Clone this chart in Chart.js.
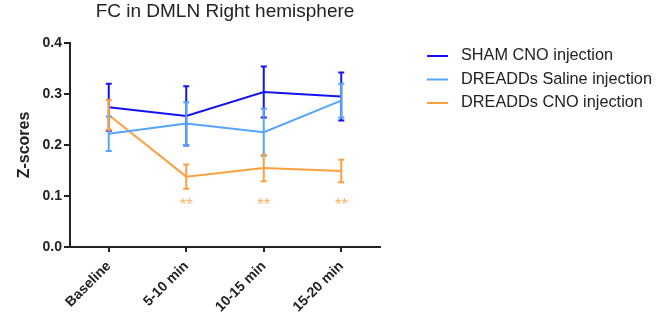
<!DOCTYPE html>
<html>
<head>
<meta charset="utf-8">
<script src="https://cdn.jsdelivr.net/npm/chart.js@4/dist/chart.umd.min.js"></script>
<style>
  html, body { margin: 0; padding: 0; background: #fff; }
  #wrap { width: 660px; height: 318px; }
</style>
</head>
<body>
<div id="wrap"><canvas id="c" width="660" height="318"></canvas></div>
<script>
const chartTitle = 'FC in DMLN Right hemisphere';
const yAxisTitle = 'Z-scores';
const categories = ['Baseline', '5-10 min', '10-15 min', '15-20 min'];
const seriesNames = ['SHAM CNO injection', 'DREADDs Saline injection', 'DREADDs CNO injection'];
const shamMean = [0.274, 0.257, 0.304, 0.295];
const shamErr = [0.046, 0.058, 0.050, 0.047];
const salineMean = [0.222, 0.242, 0.225, 0.287];
const salineErr = [0.034, 0.042, 0.046, 0.033];
const cnoMean = [0.259, 0.138, 0.155, 0.149];
const cnoErr = [0.029, 0.024, 0.026, 0.022];
const sigMarks = ['', '**', '**', '**'];
const yTickValues = [0, 0.1, 0.2, 0.3, 0.4];
const yTickLabels = ['0.0', '0.1', '0.2', '0.3', '0.4'];

const colors = ['#1414F0', '#55A5FF', '#FFA040'];
const starColor = '#FFB46A';
const textColor = '#222222';
const errs = [shamErr, salineErr, cnoErr];

const overlay = {
  id: 'overlay',
  afterDatasetsDraw(chart) {
    const ctx = chart.ctx;
    const xs = chart.scales.x, ys = chart.scales.y;
    ctx.save();
    // error bars
    chart.data.datasets.forEach((ds, di) => {
      ctx.strokeStyle = ds.borderColor;
      ctx.lineWidth = 2;
      ds.data.forEach((v, i) => {
        const x = xs.getPixelForValue(i);
        const yt = ys.getPixelForValue(v + errs[di][i]);
        const yb = ys.getPixelForValue(v - errs[di][i]);
        ctx.beginPath();
        ctx.moveTo(x, yt); ctx.lineTo(x, yb);
        ctx.moveTo(x - 3, yt); ctx.lineTo(x + 3, yt);
        ctx.moveTo(x - 3, yb); ctx.lineTo(x + 3, yb);
        ctx.stroke();
      });
    });
    // significance stars, on a common row below the lowest series
    ctx.fillStyle = starColor;
    ctx.font = '17px "Liberation Sans", Arial, sans-serif';
    ctx.textAlign = 'center';
    ctx.textBaseline = 'middle';
    const starY = ys.getPixelForValue(0.09) + 4;
    sigMarks.forEach((m, i) => {
      if (!m) return;
      ctx.fillText(m, xs.getPixelForValue(i), starY);
    });
    // title
    const ca = chart.chartArea;
    ctx.fillStyle = textColor;
    ctx.font = '19px "Liberation Sans", Arial, sans-serif';
    ctx.textAlign = 'center';
    ctx.fillText(chartTitle, (ca.left + ca.right) / 2, 12);
    // legend
    ctx.font = '16.3px "Liberation Sans", Arial, sans-serif';
    ctx.textAlign = 'left';
    chart.data.datasets.forEach((ds, di) => {
      const y = 56 + di * 23.5;
      ctx.strokeStyle = ds.borderColor;
      ctx.lineWidth = 2;
      ctx.beginPath();
      ctx.moveTo(427, y); ctx.lineTo(448, y);
      ctx.stroke();
      ctx.fillStyle = textColor;
      ctx.fillText(ds.label, 461, y);
    });
    ctx.restore();
  }
};

const lineDs = (label, data, color) => ({
  label, data,
  borderColor: color, backgroundColor: color,
  borderWidth: 2, pointRadius: 0, tension: 0, fill: false
});

new Chart(document.getElementById('c'), {
  type: 'line',
  data: {
    labels: categories,
    datasets: [
      lineDs(seriesNames[0], shamMean, colors[0]),
      lineDs(seriesNames[1], salineMean, colors[1]),
      lineDs(seriesNames[2], cnoMean, colors[2])
    ]
  },
  options: {
    responsive: false,
    animation: false,
    layout: { padding: { left: 0, right: 280, top: 43, bottom: 0 } },
    plugins: { legend: { display: false }, title: { display: false }, tooltip: { enabled: false } },
    scales: {
      x: {
        type: 'category',
        offset: true,
        grid: { display: true, offset: false, drawOnChartArea: false, drawTicks: true, tickLength: 5, color: '#222', lineWidth: 2 },
        border: { display: true, color: '#222', width: 2 },
        ticks: {
          color: textColor, maxRotation: 45, minRotation: 45, padding: 6,
          font: { family: '"Liberation Sans", Arial, sans-serif', size: 14, weight: 'bold' }
        },
        afterFit(scale) { scale.height = 71; }
      },
      y: {
        min: 0, max: 0.4,
        afterBuildTicks(scale) { scale.ticks = yTickValues.map(v => ({ value: v })); },
        grid: { display: true, drawOnChartArea: false, drawTicks: true, tickLength: 6, color: '#222', lineWidth: 2 },
        border: { display: true, color: '#222', width: 2 },
        ticks: {
          color: textColor, padding: 2,
          font: { family: '"Liberation Sans", Arial, sans-serif', size: 14, weight: 'bold' },
          callback(v, i) { return yTickLabels[i]; }
        },
        title: {
          display: true, text: yAxisTitle, color: textColor,
          font: { family: '"Liberation Sans", Arial, sans-serif', size: 16, weight: 'bold' },
          padding: { top: 15, bottom: 0 }
        },
        afterFit(scale) { scale.width = 70; }
      }
    }
  },
  plugins: [overlay]
});
</script>
</body>
</html>
